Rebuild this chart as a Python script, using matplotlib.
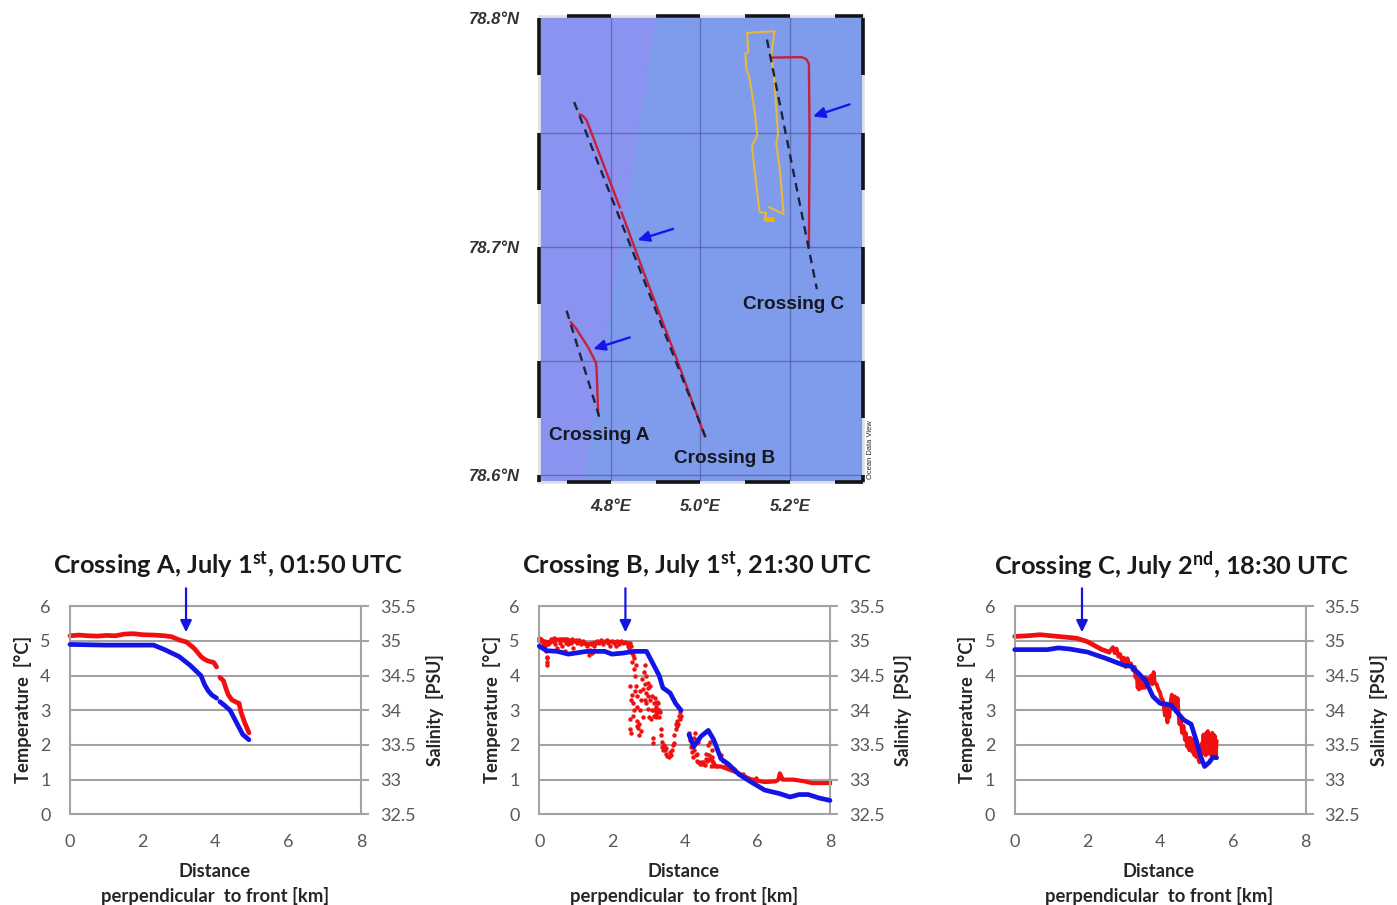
import matplotlib
matplotlib.use("Agg")
import matplotlib.pyplot as plt
from matplotlib.patches import Polygon

W, H = 1397, 905
plt.rcParams['font.family'] = ['Lato', 'DejaVu Sans']
plt.rcParams['mathtext.fontset'] = 'custom'
plt.rcParams['mathtext.rm'] = 'Lato:bold'
plt.rcParams['mathtext.default'] = 'rm'

# ---------- map data (lon, lat) ----------
map_lon_ticks = [4.8, 5.0, 5.2]
map_lon_labels = ['4.8°E', '5.0°E', '5.2°E']
map_lat_ticks = [78.6, 78.7, 78.8]
map_lat_labels = ['78.6°N', '78.7°N', '78.8°N']
map_lat_grid = [78.6, 78.65, 78.7, 78.75]
lon_bars = [(4.7011, 4.8), (4.9, 5.0), (5.1, 5.2), (5.3, 5.362)]
lat_bars = [(78.775, 78.8), (78.725, 78.75), (78.675, 78.7), (78.625, 78.65), (78.597, 78.6)]
zone_lon = [4.6395, 4.902, 4.738, 4.6395]
zone_lat = [78.801, 78.801, 78.597, 78.597]

dash_a_lon = [4.7011, 4.7769]; dash_a_lat = [78.6720, 78.6237]
dash_b_lon = [4.718, 5.0156]; dash_b_lat = [78.7633, 78.6145]
dash_c_lon = [5.1485, 5.260]; dash_c_lat = [78.7907, 78.6814]
red_a_lon = [4.7108, 4.7234, 4.7494, 4.7665, 4.7680, 4.7717]
red_a_lat = [78.6669, 78.6639, 78.6559, 78.6493, 78.6471, 78.6266]
red_b1_lon = [4.731, 4.738, 4.746, 4.820]
red_b1_lat = [78.7579, 78.7572, 78.7553, 78.7172]
red_b2_lon = [4.824, 4.872, 4.946, 5.0096]
red_b2_lat = [78.7150, 78.6895, 78.6514, 78.6171]
red_c_lon = [5.1605, 5.2252, 5.2360, 5.2422, 5.2437, 5.2422]
red_c_lat = [78.7828, 78.7830, 78.7822, 78.7801, 78.7494, 78.7004]
yellow_lon = [5.1530, 5.1857, 5.1768, 5.1694, 5.1731, 5.1656, 5.1582, 5.1656, 5.1040, 5.1069,
              5.1002, 5.1025, 5.1099, 5.1210, 5.1270, 5.1151, 5.1210, 5.1322, 5.1471, 5.1433]
yellow_lat = [78.7173, 78.7143, 78.7348, 78.7450, 78.7494, 78.7714, 78.7845, 78.7943, 78.7936, 78.7852,
              78.7845, 78.7779, 78.7735, 78.7597, 78.7487, 78.7443, 78.7333, 78.7151, 78.7148, 78.7121]
yellow_blob_lon = [5.1433, 5.1656]; yellow_blob_lat = [78.7120, 78.7118]
map_arrows = [((5.3329, 78.7623), (5.2511, 78.7570)),
              ((4.9390, 78.7078), (4.8594, 78.7029)),
              ((4.8423, 78.6603), (4.7606, 78.6552))]
map_labels = [('Crossing A', 4.7732, 78.6175), ('Crossing B', 5.054, 78.6075), ('Crossing C', 5.208, 78.6746)]

# ---------- profile data ----------
xticks = [0, 2, 4, 6, 8]
temp_ticks = [0, 1, 2, 3, 4, 5, 6]
sal_ticks = [32.5, 33, 33.5, 34, 34.5, 35, 35.5]
sal_labels = ['32.5', '33', '33.5', '34', '34.5', '35', '35.5']
titles = ['Crossing A, July 1$^{st}$, 01:50 UTC',
          'Crossing B, July 1$^{st}$, 21:30 UTC',
          'Crossing C, July 2$^{nd}$, 18:30 UTC']
front_km = [3.19, 2.37, 1.85]

a_t1_x = [0, .25, .5, .75, 1, 1.25, 1.5, 1.75, 2, 2.3, 2.6, 2.8, 3.0, 3.2, 3.4, 3.5, 3.6, 3.7, 3.8, 3.95, 4.03]
a_t1 = [5.15, 5.17, 5.15, 5.14, 5.16, 5.15, 5.2, 5.21, 5.18, 5.17, 5.15, 5.12, 5.03, 4.97, 4.8, 4.68, 4.55, 4.47, 4.42, 4.38, 4.25]
a_t2_x = [4.12, 4.22, 4.28, 4.35, 4.45, 4.6, 4.65, 4.7, 4.8, 4.92]
a_t2 = [3.95, 3.85, 3.65, 3.45, 3.3, 3.22, 3.2, 2.95, 2.65, 2.35]
a_s1_x = [0, 1, 2.3, 2.6, 3.0, 3.3, 3.6, 3.7, 3.8, 3.9, 4.03]
a_s1 = [34.95, 34.94, 34.94, 34.875, 34.775, 34.65, 34.5, 34.37, 34.28, 34.22, 34.175]
a_s2_x = [4.12, 4.25, 4.4, 4.5, 4.6, 4.75, 4.92]
a_s2 = [34.125, 34.07, 34.0, 33.9, 33.8, 33.65, 33.575]

b_s1_x = [0, .2, .5, .8, 1.3, 1.8, 2.0, 2.3, 2.6, 2.95, 3.1, 3.3, 3.4, 3.6, 3.75, 3.9]
b_s1 = [34.925, 34.86, 34.85, 34.81, 34.85, 34.85, 34.81, 34.825, 34.85, 34.85, 34.7, 34.5, 34.325, 34.25, 34.1, 34.0]
b_s2_x = [4.12, 4.25, 4.45, 4.65, 4.8, 5.0, 5.2, 5.5, 5.8, 6.2, 6.6, 6.9, 7.15, 7.4, 7.7, 8.0]
b_s2 = [33.65, 33.475, 33.625, 33.71, 33.575, 33.3, 33.225, 33.075, 32.975, 32.85, 32.8, 32.75, 32.785, 32.785, 32.735, 32.7]
b_t_plateau_x = [0.0, .3, .5, .8, 1.1, 1.3, 1.6, 1.9, 2.2, 2.45]
b_t_plateau = [5.02, 4.96, 5.02, 5.0, 4.98, 4.9, 4.97, 4.98, 4.97, 4.93]
b_t_tail_x = [4.75, 5.0, 5.2, 5.4, 5.6, 5.8, 6.0, 6.2, 6.5, 6.58, 6.62, 6.7, 7.0, 7.3, 7.5, 7.8, 8.0]
b_t_tail = [1.38, 1.38, 1.3, 1.22, 1.12, 1.02, .97, .93, .95, 1.0, 1.18, 1.0, 1.0, .95, .9, .9, .9]
b_t_points = [
 (0, 5.1), (.03, 5.0), (.06, 5.05), (.1, 4.95), (.13, 4.9), (.16, 4.85), (.18, 4.7), (.2, 4.55), (.2, 4.4), (.22, 4.3),
 (.22, 4.5), (.24, 4.9), (.27, 4.95), (.3, 5.0), (.33, 5.05), (.36, 5.0), (.4, 5.1), (.43, 4.9), (.46, 5.05), (.5, 4.8),
 (.53, 5.05), (.56, 4.95), (.6, 5.05), (.63, 4.85), (.66, 5.05), (.7, 4.7), (.7, 5.05), (.73, 4.95), (.76, 5.05), (.8, 4.9),
 (.83, 5.02), (.86, 4.95), (.9, 5.05), (.93, 4.8), (.96, 5.0), (1.0, 5.02), (1.05, 4.95), (1.1, 5.02), (1.15, 4.9), (1.2, 5.0),
 (1.25, 4.95), (1.3, 4.85), (1.33, 4.7), (1.36, 4.6), (1.4, 4.75), (1.43, 4.9), (1.46, 4.65), (1.5, 4.85), (1.55, 4.95), (1.6, 5.0),
 (1.65, 4.95), (1.7, 5.02), (1.75, 4.9), (1.8, 5.0), (1.85, 5.02), (1.9, 4.95), (1.95, 4.85), (2.0, 5.0), (2.05, 4.95), (2.1, 4.85),
 (2.15, 5.0), (2.2, 4.9), (2.25, 5.0), (2.3, 4.95), (2.35, 4.98), (2.4, 4.95), (2.45, 4.85), (2.48, 4.8), (2.5, 4.95), (2.5, 4.7),
 (2.52, 4.85), (2.55, 4.65), (2.55, 4.4), (2.58, 4.6), (2.6, 4.5), (2.6, 4.2), (2.62, 4.0), (2.65, 4.3), (2.65, 3.7), (2.5, 3.7),
 (2.52, 3.3), (2.55, 3.45), (2.58, 3.2), (2.6, 3.0), (2.5, 2.75), (2.5, 2.45), (2.52, 2.35), (2.68, 3.4), (2.7, 3.1), (2.7, 2.7),
 (2.72, 2.5), (2.75, 2.3), (2.75, 2.6), (2.78, 3.0), (2.8, 3.3), (2.8, 2.4), (2.82, 3.9), (2.85, 3.6), (2.85, 2.8), (2.88, 4.1),
 (2.9, 3.75), (2.9, 3.3), (2.92, 4.3), (2.95, 4.0), (2.95, 3.5), (2.98, 3.8), (3.0, 3.65), (3.0, 3.05), (3.02, 2.8), (3.05, 3.7),
 (3.05, 3.3), (3.08, 2.75), (3.1, 3.4), (3.1, 3.0), (3.12, 2.2), (3.12, 2.05), (3.15, 2.85), (3.15, 3.2), (3.18, 3.35), (3.2, 2.8),
 (3.22, 3.1), (3.25, 3.25), (3.25, 2.95), (3.28, 3.2), (3.3, 3.0), (3.3, 2.8), (3.32, 2.95), (3.35, 2.45), (3.35, 2.3), (3.38, 2.1),
 (3.38, 1.95), (3.42, 2.0), (3.45, 1.85), (3.48, 1.75), (3.52, 1.68), (3.58, 1.65), (3.62, 1.7), (3.66, 1.85), (3.7, 2.05), (3.72, 2.3),
 (3.75, 2.45), (3.78, 2.55), (3.8, 2.7), (3.84, 2.85), (3.88, 2.95), (3.9, 2.85),
 (2.95, 3.2), (3.0, 3.4), (3.15, 3.0), (3.22, 2.9), (3.28, 3.0), (3.2, 3.2), (2.62, 3.55), (2.78, 3.55), (2.58, 2.85), (2.68, 2.55),
 (3.4, 1.85), (3.5, 1.9), (3.6, 1.8), (3.68, 2.0), (3.76, 2.6), (3.82, 2.6), (3.86, 2.75),
 (4.12, 2.35), (4.15, 2.15), (4.18, 1.95), (4.2, 1.8), (4.22, 1.65), (4.25, 2.2), (4.28, 2.35), (4.3, 2.1), (4.3, 1.7), (4.33, 1.55),
 (4.36, 2.1), (4.38, 1.5), (4.42, 1.45), (4.48, 1.45), (4.55, 1.42), (4.58, 1.6), (4.6, 1.75), (4.62, 1.55), (4.65, 2.0), (4.68, 1.7),
 (4.7, 2.1), (4.72, 1.6), (4.75, 1.85), (4.78, 1.5), (4.82, 1.45), (4.88, 1.4), (5.0, 1.7), (5.05, 1.55), (5.15, 1.42), (5.35, 1.3),
 (5.6, 1.15), (5.95, 1.05), (4.25, 1.85), (4.35, 1.75), (4.45, 1.5), (4.5, 1.5), (4.66, 1.6), (4.74, 1.65), (4.76, 1.55)]

c_t_smooth_x = [0, .35, .7, 1.2, 1.7, 2.0, 2.4, 2.6]
c_t_smooth = [5.13, 5.15, 5.18, 5.13, 5.08, 4.98, 4.75, 4.68]
c_s_x = [0, .9, 1.2, 1.5, 2, 2.5, 3, 3.2, 3.4, 3.6, 3.8, 4.0, 4.3, 4.5, 4.65, 4.85, 5.0, 5.1, 5.22, 5.35, 5.45, 5.55]
c_s = [34.875, 34.875, 34.9, 34.885, 34.84, 34.75, 34.65, 34.635, 34.535, 34.425, 34.2, 34.1, 34.075, 33.95, 33.86, 33.8, 33.55, 33.35, 33.19, 33.25, 33.325, 33.315]
c_t_x = [2.6, 2.7, 2.75, 2.8, 2.85, 2.9, 2.95, 3.0, 3.05, 3.1, 3.15, 3.2, 3.25, 3.3,
         3.32, 3.35, 3.38, 3.4, 3.42, 3.45, 3.48, 3.5, 3.52, 3.55, 3.58, 3.6, 3.65, 3.7, 3.75, 3.78, 3.82, 3.85, 3.9, 3.95,
         4.0, 4.03, 4.07, 4.1, 4.13, 4.16, 4.2, 4.22, 4.25, 4.28, 4.32, 4.36, 4.4, 4.44, 4.48, 4.5, 4.53, 4.56, 4.6, 4.64,
         4.68, 4.7, 4.74, 4.78, 4.8, 4.84, 4.88, 4.9, 4.94, 4.98, 5.0, 5.03, 5.06, 5.08,
         5.12, 5.15, 5.17, 5.19, 5.21, 5.23, 5.25, 5.27, 5.29, 5.31, 5.33, 5.35, 5.37, 5.39, 5.41, 5.43, 5.45, 5.47, 5.49, 5.51, 5.53, 5.55]
c_t = [4.68, 4.82, 4.65, 4.78, 4.55, 4.62, 4.42, 4.52, 4.25, 4.5, 4.3, 4.35, 4.15, 4.25,
       3.95, 4.1, 3.65, 3.9, 3.6, 3.85, 3.65, 3.95, 3.65, 3.9, 3.65, 3.95, 3.7, 3.9, 4.0, 3.75, 4.1, 3.8, 3.75, 3.6,
       3.5, 3.35, 3.3, 3.1, 2.85, 3.2, 2.65, 3.1, 2.8, 3.2, 3.45, 3.2, 3.4, 3.1, 3.35, 2.95, 2.6, 2.8, 2.35, 2.55,
       2.15, 2.35, 1.95, 2.2, 1.85, 2.2, 1.8, 2.15, 1.7, 2.0, 1.65, 1.9, 1.55, 1.5,
       1.9, 2.05, 1.75, 2.3, 1.8, 2.2, 1.7, 2.35, 1.85, 2.4, 1.75, 2.3, 1.85, 2.2, 1.7, 2.35, 1.8, 2.3, 1.75, 2.25, 1.7, 2.1]

# ---------- helpers ----------
fig = plt.figure(figsize=(W / 100, H / 100), dpi=100, facecolor='white')

def px_axes(x0, x1, ytop, ybot):
    return fig.add_axes([x0 / W, 1 - ybot / H, (x1 - x0) / W, (ybot - ytop) / H])

def fig_text(x, y, s, **kw):
    return fig.text(x / W, 1 - y / H, s, ha=kw.pop('ha', 'center'), va=kw.pop('va', 'center'), **kw)

# ---------- map ----------
m = px_axes(539, 863, 16, 482)
m.set_xlim(4.6395, 5.363)
m.set_ylim(78.597, 78.801)
m.set_facecolor('#7f9bec')
m.add_patch(Polygon(list(zip(zone_lon, zone_lat)), closed=True, fc='#8a93f0', ec='none', zorder=1))
grid_c = (0.24, 0.28, 0.50, 0.5)
for v in map_lon_ticks:
    m.axvline(v, color=grid_c, lw=1, zorder=2)
for v in map_lat_grid:
    m.axhline(v, color=grid_c, lw=1, zorder=2)
for s in m.spines.values():
    s.set_color('#e2e2e2'); s.set_linewidth(2)
for a, b in lon_bars:
    for y in (78.801, 78.597):
        m.plot([a, b], [y, y], color='#141414', lw=2.6, solid_capstyle='butt', clip_on=False, zorder=6)
for a, b in lat_bars:
    for x in (4.6395, 5.363):
        m.plot([x, x], [a, b], color='#141414', lw=2.6, solid_capstyle='butt', clip_on=False, zorder=6)
m.plot(yellow_lon, yellow_lat, color='#e8b83a', lw=1.5, zorder=3)
m.plot(yellow_blob_lon, yellow_blob_lat, color='#f0b400', lw=3.5, zorder=3, solid_capstyle='butt')
for xs, ys in [(red_a_lon, red_a_lat), (red_b1_lon, red_b1_lat), (red_b2_lon, red_b2_lat), (red_c_lon, red_c_lat)]:
    m.plot(xs, ys, color='#c8203c', lw=1.7, zorder=4)
for xs, ys in [(dash_a_lon, dash_a_lat), (dash_b_lon, dash_b_lat), (dash_c_lon, dash_c_lat)]:
    m.plot(xs, ys, color='#1c2340', lw=1.7, dashes=(3.6, 2.6), zorder=4)
for p0, p1 in map_arrows:
    m.annotate('', xy=p1, xytext=p0, zorder=5,
               arrowprops=dict(arrowstyle='-|>,head_width=0.32,head_length=0.7', color='#1414ee', lw=1.7,
                               shrinkA=0, shrinkB=0))
for s, x, y in map_labels:
    m.text(x, y, s, ha='center', va='center', fontsize=13.7, fontweight='bold',
           family='Liberation Sans', color='#15181f', zorder=7)
m.set_xticks(map_lon_ticks, map_lon_labels, family='Liberation Sans', fontsize=12,
             fontweight='bold', fontstyle='italic', color='#333333')
m.set_yticks(map_lat_ticks, map_lat_labels, family='Liberation Sans', fontsize=12,
             fontweight='bold', fontstyle='italic', color='#333333')
m.tick_params(length=0, pad=12, axis='x')
m.tick_params(length=0, pad=14, axis='y')
fig_text(870, 450, 'Ocean Data View', rotation=90, fontsize=5.4, family='Liberation Sans', color='#222222')

# ---------- profiles ----------
panels = [
    dict(x0=70.0, x1=361.0, tx=228, ylab=23, rlab=435, xc=215),
    dict(x0=539.3, x1=830.0, tx=697, ylab=492, rlab=903, xc=684),
    dict(x0=1014.7, x1=1305.7, tx=1172, ylab=967, rlab=1379, xc=1159),
]
GR = '#a3a3a3'
for i, p in enumerate(panels):
    ax = px_axes(p['x0'], p['x1'], 606.3, 814.3)
    ax.set_xlim(0, 8); ax.set_ylim(0, 6)
    ax.set_facecolor('none')
    ax.set_xticks(xticks, [str(v) for v in xticks])
    ax.set_yticks(temp_ticks, [str(v) for v in temp_ticks])
    ax.tick_params(axis='x', length=0, pad=14, labelsize=13, labelcolor='#595959')
    ax.tick_params(axis='y', length=0, pad=14, labelsize=13, labelcolor='#595959')
    ax.grid(axis='y', color=GR, lw=1.5)
    ax.set_axisbelow(True)
    for s in ax.spines.values():
        s.set_color(GR); s.set_linewidth(1.5)
    ax2 = ax.twinx()
    ax2.set_ylim(32.5, 35.5)
    ax2.set_yticks(sal_ticks, sal_labels)
    ax2.tick_params(axis='y', length=5.5, width=1.5, color=GR, pad=8, labelsize=13, labelcolor='#595959')
    for s in ax2.spines.values():
        s.set_visible(False)

    red_kw = dict(color='#f01010', lw=3.4, solid_capstyle='round', clip_on=False)
    blue_kw = dict(color='#1414e6', lw=3.4, solid_capstyle='round', clip_on=False)
    if i == 0:
        ax.plot(a_t1_x, a_t1, **red_kw); ax.plot(a_t2_x, a_t2, **red_kw)
        ax2.plot(a_s1_x, a_s1, **blue_kw); ax2.plot(a_s2_x, a_s2, **blue_kw)
    elif i == 1:
        bx = [q[0] for q in b_t_points]; bt = [q[1] for q in b_t_points]
        ax.plot(bx, bt, ls='none', marker='o', ms=3.2, mec='none', color='#f01010', clip_on=False)
        ax.plot(b_t_plateau_x, b_t_plateau, color='#f01010', lw=2.8, clip_on=False)
        ax.plot(b_t_tail_x, b_t_tail, color='#f01010', lw=3, clip_on=False)
        ax2.plot(b_s1_x, b_s1, **blue_kw); ax2.plot(b_s2_x, b_s2, **blue_kw)
    else:
        ax.plot(c_t_smooth_x, c_t_smooth, **red_kw)
        ax.plot(c_t_x, c_t, color='#f01010', lw=2.8, clip_on=False)
        ax2.plot(c_s_x, c_s, **blue_kw)
    ax2.annotate('', xy=(front_km[i], 35.125), xytext=(front_km[i], 35.76), annotation_clip=False,
                 arrowprops=dict(arrowstyle='-|>,head_width=0.34,head_length=0.7', color='#1414e6', lw=1.6,
                                 shrinkA=0, shrinkB=0))
    fig_text(p['tx'], 565.5, titles[i], fontsize=18.3, fontweight='bold', color='#1a1a1a')
    fig_text(p['ylab'], 709, 'Temperature  [°C]', rotation=90, fontsize=13.2, fontweight='bold', color='#262626')
    fig_text(p['rlab'], 710, 'Salinity  [PSU]', rotation=90, fontsize=12.8, fontweight='bold', color='#262626')
    fig_text(p['xc'], 871, 'Distance', fontsize=13.2, fontweight='bold', color='#262626')
    fig_text(p['xc'], 895.5, 'perpendicular  to front [km]', fontsize=13.3, fontweight='bold', color='#262626')

fig.savefig('out.png', dpi=100, facecolor='white')
